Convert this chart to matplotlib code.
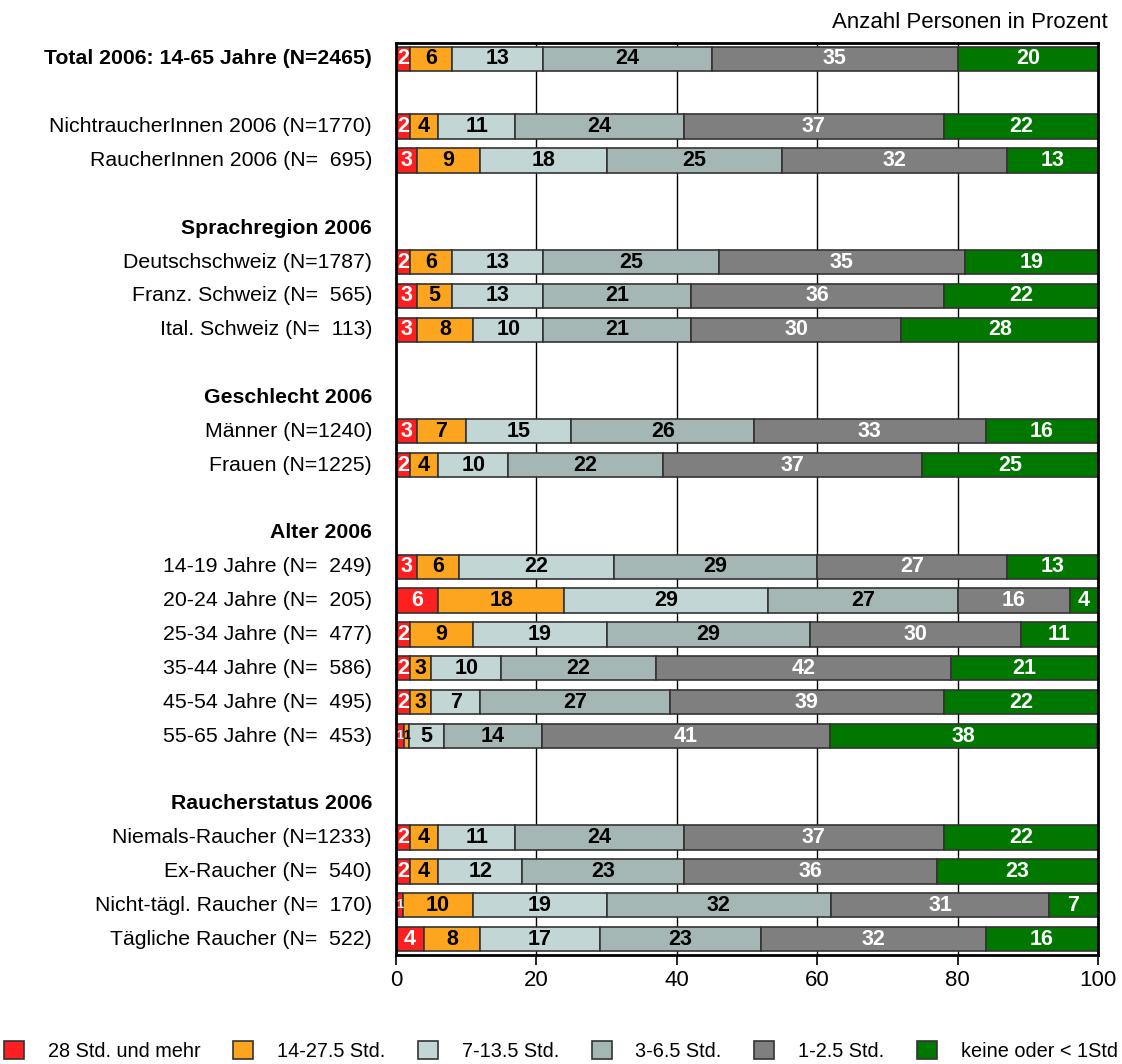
import numpy as np
import matplotlib
matplotlib.use("Agg")
from matplotlib import pyplot as plt
from matplotlib.patches import Patch

plt.rcParams['font.family'] = ['Liberation Sans', 'DejaVu Sans']

categories = ['28 Std. und mehr', '14-27.5 Std.', '7-13.5 Std.',
              '3-6.5 Std.', '1-2.5 Std.', 'keine oder < 1Std']
colors = ['#fe2020', '#fea520', '#c2d6d5', '#a5b7b5', '#7f7f7f', '#007800']
text_colors = ['white', 'black', 'black', 'black', 'white', 'white']

# rows from top to bottom; None = empty row, header rows have no values
row_labels = [
    'Total 2006: 14-65 Jahre (N=2465)', None,
    'NichtraucherInnen 2006 (N=1770)', 'RaucherInnen 2006 (N=  695)', None,
    'Sprachregion 2006',
    'Deutschschweiz (N=1787)', 'Franz. Schweiz (N=  565)', 'Ital. Schweiz (N=  113)', None,
    'Geschlecht 2006',
    'Männer (N=1240)', 'Frauen (N=1225)', None,
    'Alter 2006',
    '14-19 Jahre (N=  249)', '20-24 Jahre (N=  205)', '25-34 Jahre (N=  477)',
    '35-44 Jahre (N=  586)', '45-54 Jahre (N=  495)', '55-65 Jahre (N=  453)', None,
    'Raucherstatus 2006',
    'Niemals-Raucher (N=1233)', 'Ex-Raucher (N=  540)',
    'Nicht-tägl. Raucher (N=  170)', 'Tägliche Raucher (N=  522)',
]
bold_rows = ['Total 2006: 14-65 Jahre (N=2465)', 'Sprachregion 2006',
             'Geschlecht 2006', 'Alter 2006', 'Raucherstatus 2006']

values = {
    'Total 2006: 14-65 Jahre (N=2465)': [2, 6, 13, 24, 35, 20],
    'NichtraucherInnen 2006 (N=1770)': [2, 4, 11, 24, 37, 22],
    'RaucherInnen 2006 (N=  695)': [3, 9, 18, 25, 32, 13],
    'Deutschschweiz (N=1787)': [2, 6, 13, 25, 35, 19],
    'Franz. Schweiz (N=  565)': [3, 5, 13, 21, 36, 22],
    'Ital. Schweiz (N=  113)': [3, 8, 10, 21, 30, 28],
    'Männer (N=1240)': [3, 7, 15, 26, 33, 16],
    'Frauen (N=1225)': [2, 4, 10, 22, 37, 25],
    '14-19 Jahre (N=  249)': [3, 6, 22, 29, 27, 13],
    '20-24 Jahre (N=  205)': [6, 18, 29, 27, 16, 4],
    '25-34 Jahre (N=  477)': [2, 9, 19, 29, 30, 11],
    '35-44 Jahre (N=  586)': [2, 3, 10, 22, 42, 21],
    '45-54 Jahre (N=  495)': [2, 3, 7, 27, 39, 22],
    '55-65 Jahre (N=  453)': [1.2, 0.6, 5, 14, 41, 38],
    'Niemals-Raucher (N=1233)': [2, 4, 11, 24, 37, 22],
    'Ex-Raucher (N=  540)': [2, 4, 12, 23, 36, 23],
    'Nicht-tägl. Raucher (N=  170)': [1, 10, 19, 32, 31, 7],
    'Tägliche Raucher (N=  522)': [4, 8, 17, 23, 32, 16],
}
# shown numbers (rounded)
shown = {'55-65 Jahre (N=  453)': [1, 1, 5, 14, 41, 38]}

fig = plt.figure(figsize=(11.22, 10.64), dpi=100)
ax = fig.add_axes([0.3529, 0.1024, 0.6257, 0.8572])

for x in [20, 40, 60, 80]:
    ax.axvline(x, color='black', lw=1, zorder=0)

for i, lab in enumerate(row_labels):
    if lab is None:
        continue
    ax.text(-3.4, i, lab, ha='right', va='center', fontsize=15.3,
            fontweight='bold' if lab in bold_rows else 'normal')
    if lab not in values:
        continue
    vals = values[lab]
    nums = shown.get(lab, vals)
    left = 0
    for k, v in enumerate(vals):
        ax.barh(i, v, left=left, height=0.72, color=colors[k],
                edgecolor='#333333', lw=1.2, zorder=2)
        fs = 9 if v < 1.5 else 15.5
        ax.text(left + v / 2, i, f'{nums[k]:g}', ha='center', va='center',
                fontsize=fs, fontweight='bold', color=text_colors[k], zorder=3)
        left += v

ax.set_xlim(0, 100)
ax.set_ylim(26.47, -0.47)
ax.set_yticks([])
ax.set_xticks(np.arange(0, 101, 20))
ax.tick_params(axis='x', labelsize=16, length=7, width=1.2, direction='out')
for s in ax.spines.values():
    s.set_linewidth(2)

fig.text(0.987, 0.979, 'Anzahl Personen in Prozent', ha='right', va='center',
         fontsize=16)

handles = [Patch(facecolor=c, edgecolor='#333333', lw=1.2) for c in colors]
fig.legend(handles, categories, loc='center', bbox_to_anchor=(0.5, 0.012),
           ncol=6, frameon=False, fontsize=14.3, handlelength=1.0,
           handleheight=1.0, columnspacing=1.65, handletextpad=1.2,
           borderpad=0.1, borderaxespad=0.1)

plt.savefig('out.png', dpi=100)
